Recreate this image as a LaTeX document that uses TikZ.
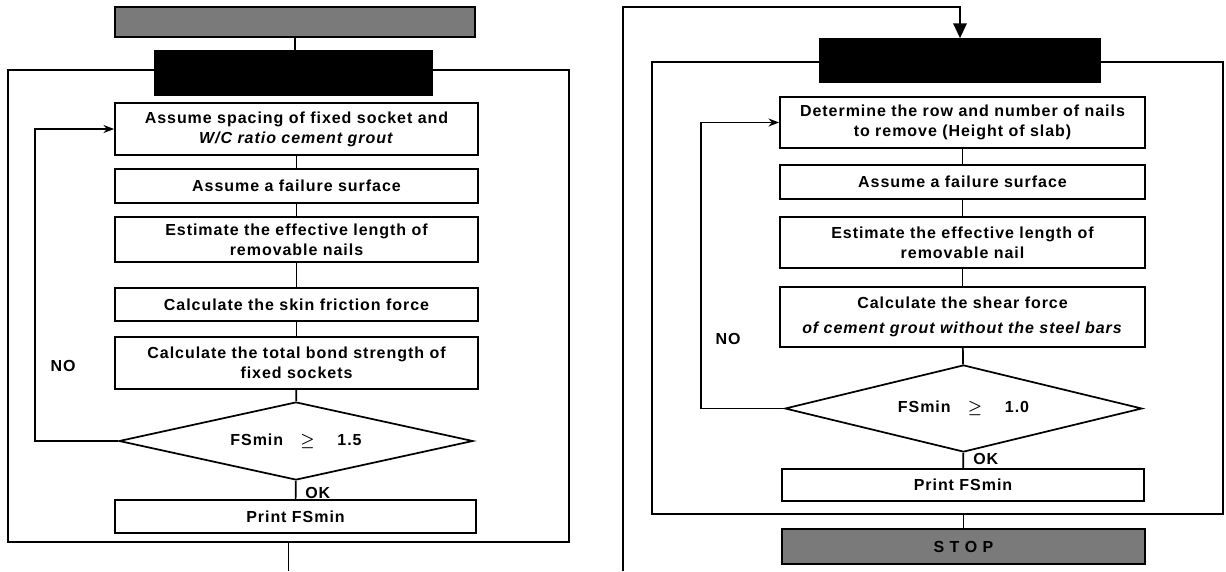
\documentclass[tikz,border=0pt]{standalone}
\usepackage{amsmath}
\usepackage{amssymb}
\usepackage{fontspec}
\setmainfont{Liberation Sans}[LetterSpace=6]
\usetikzlibrary{shapes.geometric,arrows.meta}

\tikzset{
  txt/.style={font=\fontsize{12}{15}\selectfont\bfseries},
  stepbox/.style={txt, draw, line width=1.3pt, fill=white, align=center, inner sep=0.75pt, minimum width=272.25pt},
  blackbox/.style={draw, line width=1.3pt, fill=black},
  greybox/.style={draw, line width=1.3pt, fill=black!52, txt},
  testbox/.style={txt, draw, line width=1.3pt, fill=white, shape=diamond, aspect=4.5, inner sep=0pt},
  panel/.style={draw, line width=1.3pt},
  flow/.style={line width=1.3pt},
  tip/.style={-{Stealth[length=8pt,width=6pt]}},
}

\begin{document}
\begin{tikzpicture}[x=0.75pt,y=0.75pt,yscale=-1,xscale=1]
\useasboundingbox (0,0) rectangle (1226,571);

%Shape: Rectangle [frames]
\node (frameL) [panel, minimum width=420.75pt, minimum height=354pt] at (288.5,306) {};
\node (frameR) [panel, minimum width=428.25pt, minimum height=339pt] at (937.5,288) {};

%Shape: Rectangle [left column]
\node (titleL) [greybox, minimum width=270pt, minimum height=22.5pt] at (295,22) {};
\node (headL) [blackbox, minimum width=207.75pt, minimum height=33pt] at (293.5,73) {};
\node (boxL1) [stepbox, minimum height=39pt] at (296.5,129) {Assume spacing of fixed socket and\\ \textit{W/C ratio cement grout}};
\node (boxL2) [stepbox, minimum height=25.5pt] at (296.5,186) {Assume a failure surface};
\node (boxL3) [stepbox, minimum height=33.75pt] at (296.5,239.5) {Estimate the effective length of\\ removable nails};
\node (boxL4) [stepbox, minimum height=24.75pt] at (296.5,304.5) {Calculate the skin friction force};
\node (boxL5) [stepbox, minimum height=39pt] at (296.5,363) {Calculate the total bond strength of\\ fixed sockets};
\node (testL) [testbox, minimum width=265.5pt, minimum height=58.5pt] at (296,441) {FSmin\hspace{13pt}$\boldsymbol{\geq}$\hspace{17pt}1.5};
\node (printL) [stepbox, minimum width=270.75pt, minimum height=24.75pt] at (295.5,516.5) {Print FSmin};

%Shape: Rectangle [right column]
\node (headR) [blackbox, minimum width=210pt, minimum height=32.25pt] at (960,60.5) {};
\node (boxR1) [stepbox, minimum width=273.75pt, minimum height=38.25pt] at (962.5,122.5) {Determine the row and number of nails\\ to remove (Height of slab)};
\node (boxR2) [stepbox, minimum width=273.75pt, minimum height=25.5pt] at (962.5,182) {Assume a failure surface};
\node (boxR3) [stepbox, minimum width=273.75pt, minimum height=38.25pt] at (962.5,242.5) {Estimate the effective length of\\ removable nail};
\node (boxR4) [stepbox, minimum width=273.75pt, minimum height=45pt] at (962.5,317) {Calculate the shear force\\[4pt] \textit{of cement grout without the steel bars}};
\node (testR) [testbox, minimum width=267.75pt, minimum height=65.25pt] at (963.5,408.5) {FSmin\hspace{13pt}$\boldsymbol{\geq}$\hspace{17pt}1.0};
\node (printR) [stepbox, minimum width=271.5pt, minimum height=24pt] at (963,485) {Print FSmin};
\node (stopR) [greybox, minimum width=272.25pt, minimum height=26.25pt] at (963.5,546.5) {S T O P};

%Straight Lines
\coordinate (loopL) at (35,441);
\coordinate (exitL) at (288.5,571);
\coordinate (loopR) at (701,408.5);
\coordinate (backR) at (623,571);
\coordinate (topR) at (623,7);

\draw [flow] (titleL.south) -- (titleL.south |- headL.north);
\draw [flow] (boxL1) -- (boxL2);
\draw [flow] (boxL2) -- (boxL3);
\draw [flow] (boxL3) -- (boxL4);
\draw [flow] (boxL4) -- (boxL5);
\draw [flow] (boxL5) -- (testL);
\draw [flow] (testL) -- (printL);
\draw [flow,tip] (testL.west) -- (loopL) |- (boxL1.west);
\draw [flow] (frameL.south) -- (exitL);

\draw [flow] (boxR1) -- (boxR2);
\draw [flow] (boxR2) -- (boxR3);
\draw [flow] (boxR3) -- (boxR4);
\draw [flow] (boxR4) -- (testR);
\draw [flow] (testR) -- (printR);
\draw [flow,tip] (testR.west) -- (loopR) |- (boxR1.west);
\draw [flow] (stopR.north |- frameR.south) -- (stopR.north);
\draw [flow,-{Triangle[length=11pt,width=10pt]}] (backR) -- (topR) -| (headR.north);

% Text Node
\node (noL) [txt] at (63,366) {NO};
\node (okL) [txt, anchor=west, inner sep=0.75pt] at (304,493) {OK};
\node (noR) [txt] at (728,339) {NO};
\node (okR) [txt, anchor=west, inner sep=0.75pt] at (972,459) {OK};

\end{tikzpicture}
\end{document}
